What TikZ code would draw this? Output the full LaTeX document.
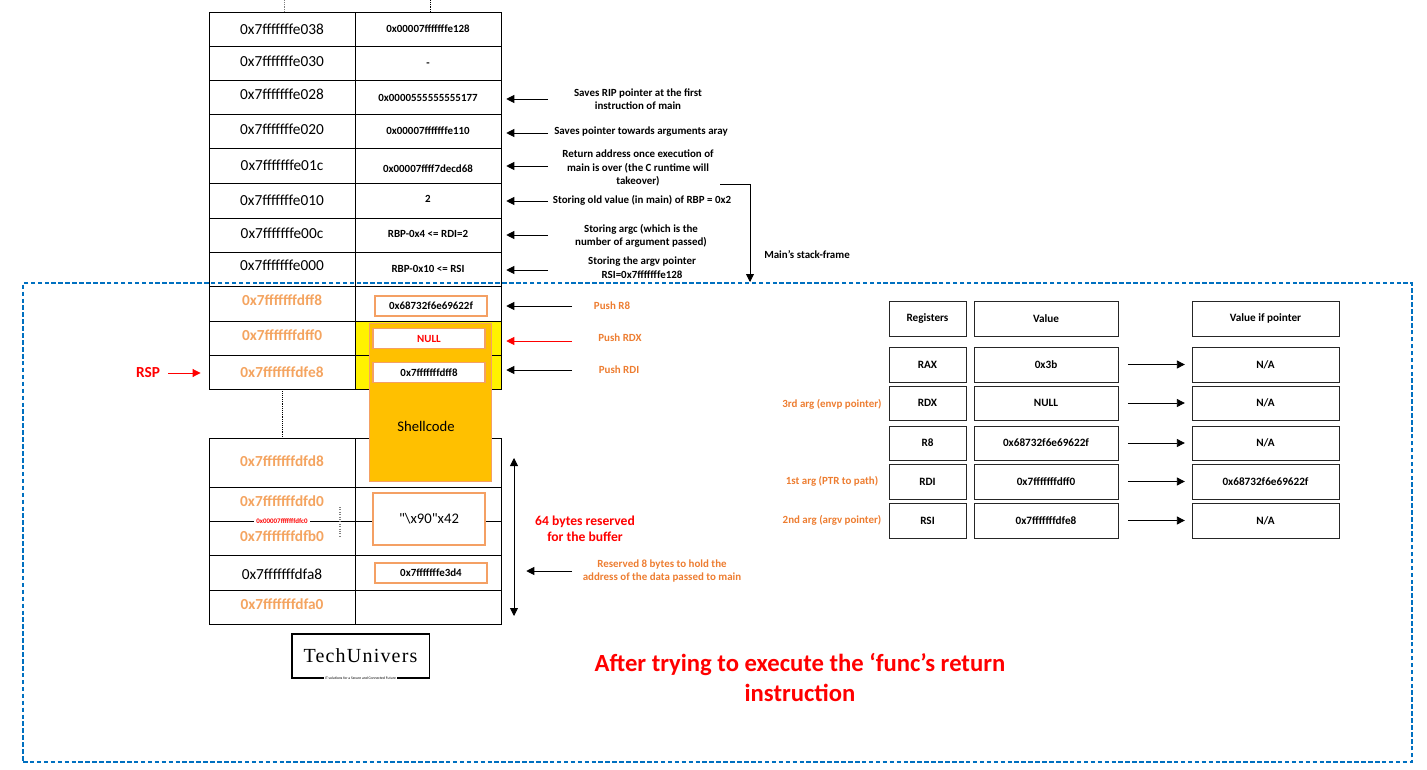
\documentclass[tikz,border=0pt]{standalone}
\usepackage{fontspec}
\setmainfont{Carlito}
\newfontfamily\plainfont{Carlito}
\newfontfamily\logofont[LetterSpace=6]{Liberation Serif}
\usepackage{tikz}
\usetikzlibrary{arrows.meta, positioning}

\definecolor{addrorange}{RGB}{244,164,96}
\definecolor{noteorange}{RGB}{237,125,49}
\definecolor{boxorange}{RGB}{244,160,100}
\definecolor{shellfill}{RGB}{255,192,0}
\definecolor{framecolor}{RGB}{0,112,192}

\tikzset{
	stackcell/.style={draw=black, line width=0.65pt, inner sep=0pt},
	addrplain/.style={inner sep=0pt, font=\fontsize{11.5}{13}\selectfont},
	addrhot/.style={inner sep=0pt, text=addrorange, font=\fontsize{11.5}{13}\selectfont\bfseries},
	valtext/.style={inner sep=0pt, font=\fontsize{8.2}{10}\selectfont\bfseries},
	notetext/.style={inner sep=0pt, align=center, font=\fontsize{8.2}{10.2}\selectfont\bfseries},
	orangenote/.style={notetext, text=noteorange},
	valbox/.style={draw=boxorange, fill=white, line width=0.8pt, inner sep=0pt, minimum width=84pt},
	regcell/.style={draw=black!85, line width=0.75pt, inner sep=0pt, font=\fontsize{8.4}{10}\selectfont\bfseries},
	pointer/.style={->, line width=0.65pt, shorten >=3pt}
}

\begin{document}
\begin{tikzpicture}[>={Triangle[length=6pt, width=6pt]}, x=0.75pt, y=-0.75pt]
	\useasboundingbox (0,0) rectangle (1427,770);

	\foreach \n/\t/\h/\ay/\addr/\vy/\val/\c in {
		1/12/34/29/0x7fffffffe038/29/0x00007fffffffe128/addrplain,
		2/46/34/61/0x7fffffffe030/65/-/addrplain,
		3/80/34/94/0x7fffffffe028/97.5/0x0000555555555177/addrplain,
		4/114/34/129/0x7fffffffe020/131/0x00007fffffffe110/addrplain,
		5/148/35/165/0x7fffffffe01c/169/0x00007ffff7decd68/addrplain,
		6/183/35/200/0x7fffffffe010/199/2/addrplain,
		7/218/34/233/0x7fffffffe00c/234/RBP-0x4 <= RDI=2/addrplain,
		8/252/34/265/0x7fffffffe000/269/RBP-0x10 <= RSI/addrplain,
		9/286/35/300/0x7fffffffdff8/306//addrhot,
		10/321/34/335/0x7fffffffdff0/339//addrhot,
		11/355/34/372/0x7fffffffdfe8/371//addrhot,
		12/438/49/461/0x7fffffffdfd8/461//addrhot,
		14/555/35/574/0x7fffffffdfa8/574//addrplain,
		15/590/34/604/0x7fffffffdfa0/604//addrhot} {
		\node[stackcell, minimum width=109.5pt, minimum height=\h*0.75pt] (addr\n) at (282,{\t+\h/2}) {};
		\node[stackcell, minimum width=110pt, minimum height=\h*0.75pt] (val\n) at (428.5,{\t+\h/2}) {};
		\node[\c] (addrtxt\n) at (282,\ay) {\addr};
		\node[valtext] (valtxt\n) at (428,\vy) {\val};
	}
	\node[stackcell, minimum width=109.5pt, minimum height=51pt] (addr13) at (282,521) {};
	\node[stackcell, minimum width=110pt, minimum height=51pt] (val13) at (428.5,521) {};
	\node[stackcell, fill=yellow, minimum width=110pt, minimum height=25.5pt] (val10) at (428.5,338) {};
	\node[stackcell, fill=yellow, minimum width=110pt, minimum height=25.5pt] (val11) at (428.5,372) {};

	\coordinate (stubL) at (284,0);
	\coordinate (stubR) at (430,0);
	\draw[densely dotted, gray] (stubL) -- (stubL |- addr1.north);
	\draw[densely dotted] (stubR) -- (stubR |- val1.north);
	\draw[densely dotted] (addr11.south) -- (addr12.north);

	\coordinate (midL) at (209,521);
	\coordinate (midR) at (502,521);
	\draw[line width=0.65pt] (midL) -- (midR);
	\node[fill=white, inner sep=1.5pt, text=red, font=\fontsize{5.2}{6}\selectfont\bfseries] (split) at (282,521) {0x00007fffffffdfc0};
	\node[addrhot] (addrtop) at (282,501) {0x7fffffffdfd0};
	\node[addrhot] (addrbot) at (282,536) {0x7fffffffdfb0};
	\coordinate (dotA) at (340,507);
	\coordinate (dotB) at (340,536);
	\draw[densely dotted, gray, line width=0.8pt] (dotA) -- (dotB);

	\node[draw=boxorange, fill=shellfill, line width=0.7pt, minimum width=91.5pt, minimum height=118pt, inner sep=0pt] (shell) at (430,402.5) {};
	\node[font=\fontsize{11}{13}\selectfont] (shelltxt) at (426,426) {Shellcode};
	\node[valbox, minimum height=15pt, font=\fontsize{8.2}{10}\selectfont\bfseries] (boxr8) at (431,306) {0x68732f6e69622f};
	\node[valbox, minimum height=14.5pt, text=red, font=\fontsize{8.2}{10}\selectfont\bfseries] (boxnull) at (429,338.5) {NULL};
	\node[valbox, minimum height=14.5pt, font=\fontsize{8.2}{10}\selectfont\bfseries] (boxrdi) at (429,372.5) {0x7fffffffdff8};
	\node[valbox, minimum height=39pt, font=\fontsize{11}{13}\plainfont\selectfont] (boxnop) at (429,519) {"\textbackslash x90"x42};
	\node[valbox, minimum height=15pt, font=\fontsize{8.2}{10}\selectfont\bfseries] (boxdata) at (431,573) {0x7fffffffe3d4};

	\node[draw=framecolor, dash pattern=on 3.4pt off 1.8pt, line width=1.5pt, minimum width=1041.75pt, minimum height=359.25pt, inner sep=0pt] (frame) at (717.5,522.5) {};

	\foreach \r/\y in {3/99, 4/133, 5/166, 6/201, 7/235, 8/270} {
		\coordinate (src\r) at (548,\y);
		\draw[pointer] (src\r) -- (src\r -| val\r.east);
	}
	\foreach \r/\y/\c in {9/306/black, 10/341/red, 11/370/black} {
		\coordinate (src\r) at (572,\y);
		\draw[pointer, \c] (src\r) -- (src\r -| val\r.east);
	}
	\coordinate (src14) at (572,571);
	\draw[pointer, shorten >=18pt] (src14) -- (src14 -| val14.east);

	\node[notetext] (note3) at (638,99) {Saves RIP pointer at the first\\instruction of main};
	\node[notetext] (note4) at (641,132) {Saves pointer towards arguments aray};
	\node[notetext] (note5) at (638,168) {Return address once execution of\\main is over (the C runtime will\\takeover)};
	\node[notetext] (note6) at (642,200) {Storing old value (in main) of RBP = 0x2};
	\node[notetext] (note7) at (641,236) {Storing argc (which is the\\number of argument passed)};
	\node[notetext] (note8) at (642,268) {Storing the argv pointer\\RSI=0x7fffffffe128};
	\node[notetext] (mainframe) at (807,255) {Main's stack-frame};
	\coordinate (frameStart) at (720,184);
	\coordinate (frameBend) at (750,184);
	\draw[->, line width=0.65pt] (frameStart) -- (frameBend) -- (frameBend |- frame.north);

	\node[orangenote] (push9) at (612,306) {Push R8};
	\node[orangenote] (push10) at (620,338) {Push RDX};
	\node[orangenote] (push11) at (619,370) {Push RDI};
	\node[orangenote] (note14) at (662,571) {Reserved 8 bytes to hold the\\address of the data passed to main};

	\node[inner sep=0pt, text=red, font=\fontsize{11.5}{13}\selectfont\bfseries] (rsp) at (148,373) {RSP};
	\draw[pointer, red, shorten <=6pt, shorten >=6pt] (rsp.east) -- (rsp.east -| addr11.west);

	\coordinate (bufTop) at (514,458);
	\coordinate (bufBot) at (514,616);
	\draw[<->, line width=0.65pt] (bufTop) -- (bufBot);
	\node[inner sep=0pt, align=center, text=red, font=\fontsize{10.2}{12.2}\selectfont\bfseries] (bufnote) at (585,529) {64 bytes reserved\\for the buffer};

	\foreach \n/\y/\h/\reg/\val/\ptr in {
		0/318.5/35/Registers/Value/Value if pointer,
		1/364.5/35/RAX/0x3b/{N/A},
		2/403/34/RDX/NULL/{N/A},
		3/443/34/R8/0x68732f6e69622f/{N/A},
		4/481.5/35/RDI/0x7fffffffdff0/0x68732f6e69622f,
		5/520.5/35/RSI/0x7fffffffdfe8/{N/A}} {
		\node[regcell, minimum width=57.75pt, minimum height=\h*0.75pt] (reg\n) at (927.5,\y) {\reg};
		\node[regcell, minimum width=108pt, minimum height=\h*0.75pt] (regval\n) at (1046,\y) {\val};
		\node[regcell, minimum width=110.25pt, minimum height=\h*0.75pt] (regptr\n) at (1265.5,\y) {\ptr};
	}
	\foreach \n in {1,...,5} {
		\draw[->, line width=0.65pt, shorten <=7pt, shorten >=5pt] (regval\n.east) -- (regptr\n.west);
	}
	\node[orangenote] (arg2) at (832,404) {3rd arg (envp pointer)};
	\node[orangenote] (arg4) at (832,481) {1st arg (PTR to path)};
	\node[orangenote] (arg5) at (832,520) {2nd arg (argv pointer)};

	\node[inner sep=0pt, align=center, text=red, font=\fontsize{18.5}{22.5}\selectfont\bfseries] (title) at (800,677) {After trying to execute the ‘func’s return\\instruction};

	\node[draw=black, line width=1pt, minimum width=103pt, minimum height=33pt, inner sep=0pt, font=\fontsize{15}{17}\selectfont\logofont] (logo) at (360.5,656) {TechUnivers};
	\node[fill=white, inner sep=1pt, font=\fontsize{2.8}{3}\selectfont] (tagline) at (360.5,678) {IT solutions for a Secure and Connected Future};
\end{tikzpicture}
\end{document}
